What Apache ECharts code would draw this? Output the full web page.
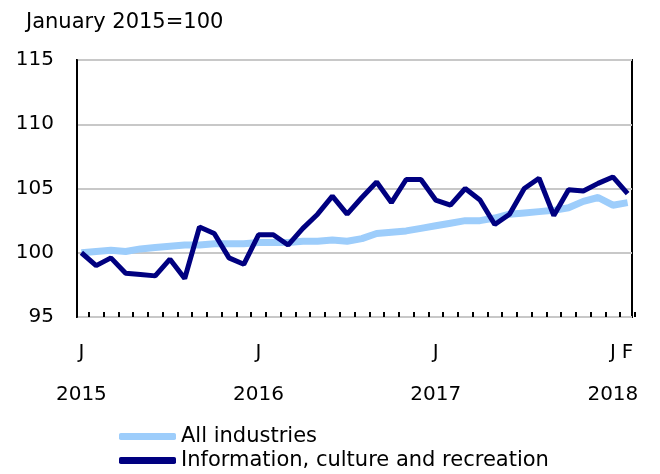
<!DOCTYPE html>
<html>
<head>
<meta charset="utf-8">
<script src="https://cdn.jsdelivr.net/npm/echarts@6/dist/echarts.min.js"></script>
<style>
  html, body { margin: 0; padding: 0; background: #fff; }
  #chart { width: 660px; height: 474px; }
</style>
</head>
<body>
<div id="chart"></div>
<script>
// monthly, January 2015 to February 2018
var monthLetters = ["J","F","M","A","M","J","J","A","S","O","N","D"];
var startYear = 2015;
var monthCount = 38;
var yTicks = { min: 95, max: 115, step: 5 };
var unitLabel = "January 2015=100";
var seriesNames = ["All industries", "Information, culture and recreation"];

var allIndustries = [
  100.0, 100.1, 100.2, 100.1, 100.3, 100.4, 100.5, 100.6, 100.6, 100.7, 100.7, 100.7,
  100.8, 100.8, 100.8, 100.9, 100.9, 101.0, 100.9, 101.1, 101.5, 101.6, 101.7, 101.9,
  102.1, 102.3, 102.5, 102.5, 102.7, 103.0, 103.1, 103.2, 103.3, 103.5, 104.0, 104.3,
  103.7, 103.9
];
var infoCulture = [
  100.0, 99.0, 99.6, 98.4, 98.3, 98.2, 99.5, 98.0, 102.0, 101.5, 99.6, 99.1,
  101.4, 101.4, 100.6, 101.9, 103.0, 104.4, 103.0, 104.3, 105.5, 103.9, 105.7, 105.7,
  104.1, 103.7, 105.0, 104.1, 102.2, 103.0, 105.0, 105.8, 102.9, 104.9, 104.8, 105.4,
  105.9, 104.6
];

var categories = [];
for (var i = 0; i < monthCount; i++) categories.push(i);

var font = "DejaVu Sans";
var chart = echarts.init(document.getElementById("chart"));

function legendAt(top, name) {
  return {
    orient: "vertical", left: 114, top: top,
    itemWidth: 57, itemHeight: 7,
    icon: "roundRect",
    textStyle: { fontFamily: font, fontSize: 21, color: "#000" },
    data: [name]
  };
}

chart.setOption({
  animation: false,
  textStyle: { fontFamily: font, color: "#000" },
  title: {
    text: unitLabel, left: 21, top: 7,
    textStyle: { fontFamily: font, fontSize: 21, fontWeight: "normal", color: "#000" }
  },
  legend: [legendAt(421, seriesNames[0]), legendAt(445, seriesNames[1])],
  grid: [
    { left: 74, right: 25, top: 60, bottom: 157, show: false },
    { left: 77, right: 28, top: 60, bottom: 157, show: true, borderColor: "#000", borderWidth: 2, backgroundColor: "transparent" }
  ],
  xAxis: [
    {
      type: "category", gridIndex: 0, data: categories, boundaryGap: true,
      axisLine: { show: false },
      axisTick: {
        show: true, inside: true, length: 5, lineStyle: { color: "#000", width: 2 },
        interval: function (idx) { return idx > 0 && idx < monthCount; }
      },
      axisLabel: {
        interval: 0, margin: 15, fontFamily: font, fontSize: 20, lineHeight: 42, color: "#000",
        formatter: function (v) {
          var idx = Number(v);
          var m = idx % 12;
          if (m === 0) return monthLetters[m] + "\n" + (startYear + idx / 12);
          if (idx === monthCount - 1) return monthLetters[m];
          return "";
        }
      },
      splitLine: { show: false }
    },
    { type: "value", gridIndex: 1, show: false, min: 0, max: 1 }
  ],
  yAxis: [
    { type: "value", gridIndex: 0, show: false, min: yTicks.min, max: yTicks.max, interval: yTicks.step },
    {
      type: "value", gridIndex: 1, min: yTicks.min, max: yTicks.max, interval: yTicks.step,
      axisLine: { show: true, lineStyle: { color: "#000", width: 2 } },
      axisTick: { show: false },
      axisLabel: { margin: 23, fontFamily: font, fontSize: 20, color: "#000" },
      splitLine: { show: true, lineStyle: { color: "#c8c8c8", width: 2 } }
    }
  ],
  series: [
    {
      name: seriesNames[0], type: "line", xAxisIndex: 0, yAxisIndex: 0,
      data: allIndustries, showSymbol: false, symbol: "none",
      color: "#9dcdfb",
      lineStyle: { color: "#9dcdfb", width: 7 }, z: 3
    },
    {
      name: seriesNames[1], type: "line", xAxisIndex: 0, yAxisIndex: 0,
      data: infoCulture, showSymbol: false, symbol: "none",
      color: "#000080",
      lineStyle: { color: "#000080", width: 5 }, z: 4
    }
  ]
});
</script>
</body>
</html>
